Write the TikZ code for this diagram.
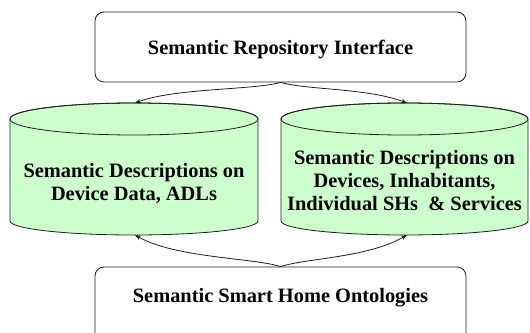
\documentclass[tikz,border=0pt]{standalone}
\usepackage{fontspec}
\setmainfont{Liberation Serif}
\usetikzlibrary{arrows.meta}
\definecolor{cylfill}{RGB}{204,255,204}
\definecolor{linecol}{RGB}{30,30,30}
\tikzset{
  lbl/.style={font=\fontsize{20.4}{23}\selectfont\bfseries, align=center, inner sep=0pt},
  roundbox/.style={lbl, draw=linecol, line width=0.8pt, rounded corners=9pt, minimum width=371pt},
  cylbody/.style={fill=cylfill, draw=linecol, line width=0.8pt},
  conn/.style={draw=linecol, line width=0.8pt, -{Stealth[length=6pt,width=4.5pt]}},
}
\begin{document}
\begin{tikzpicture}[x=1pt,y=1pt]
\useasboundingbox (0,0) rectangle (530,332);
\clip (0,0) rectangle (530,332);
% left cylinder
\path[cylbody] (10,213) -- (10,111) arc[start angle=180, end angle=360, x radius=124, y radius=14] -- (258,213) arc[start angle=0, end angle=180, x radius=124, y radius=16] -- cycle;
\draw[linecol, line width=0.8pt] (134,213) ellipse[x radius=124, y radius=16];
% right cylinder
\path[cylbody] (281,213) -- (281,111) arc[start angle=180, end angle=360, x radius=123.5, y radius=14] -- (528,213) arc[start angle=0, end angle=180, x radius=123.5, y radius=16] -- cycle;
\draw[linecol, line width=0.8pt] (404.5,213) ellipse[x radius=123.5, y radius=16];
% named end points on the cylinders
\coordinate (ltop) at (135,229);
\coordinate (lbot) at (135,97);
\coordinate (rtop) at (407,229);
\coordinate (rbot) at (407,97);
% text nodes
\node[lbl] (ldesc) at (134,148.7) {Semantic Descriptions on\\Device Data, ADLs};
\node[lbl] (rdesc) at (404.5,151.7) {Semantic Descriptions on\\Devices, Inhabitants,\\Individual SHs\ \ \& Services};
% boxes
\node[roundbox, anchor=base, text height=43pt, text depth=27pt] (repo) at (280.5,277) {Semantic Repository Interface};
\node[roundbox, anchor=base, text height=36pt, text depth=40pt] (onto) at (280.5,29) {Semantic Smart Home Ontologies};
% connectors
\draw[conn] (repo.south) .. controls (255,242) and (175,244) .. (ltop);
\draw[conn] (repo.south) .. controls (307,242) and (367,244) .. (rtop);
\draw[conn] (onto.north) .. controls (255,74) and (175,74) .. (lbot);
\draw[conn] (onto.north) .. controls (307,74) and (367,74) .. (rbot);
\end{tikzpicture}
\end{document}
